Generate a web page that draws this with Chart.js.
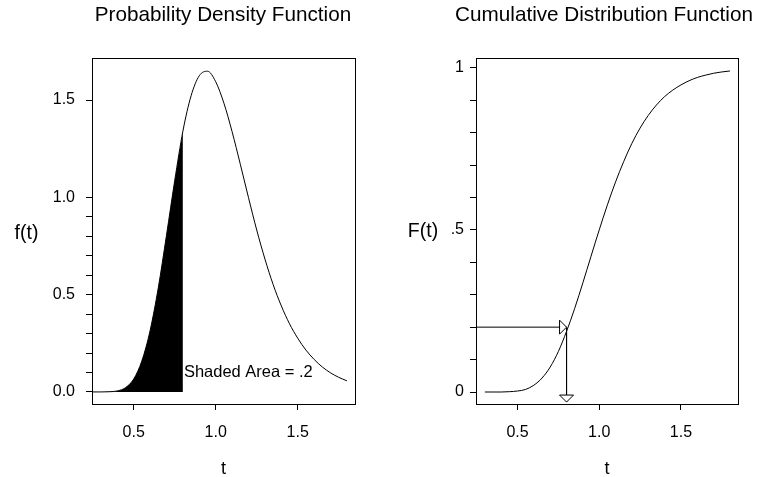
<!DOCTYPE html>
<html><head><meta charset="utf-8">
<script src="https://cdn.jsdelivr.net/npm/chart.js@4.4.1/dist/chart.umd.min.js"></script>
<style>
html,body{margin:0;padding:0;background:#fff;overflow:hidden;}
#wrap{position:relative;width:757px;height:477px;background:#fff;}
canvas{position:absolute;top:0;}
#c1{left:0;} #c2{left:379px;}
</style></head><body>
<div id="wrap"><canvas id="c1" width="378" height="477"></canvas><canvas id="c2" width="378" height="477"></canvas></div>
<script>
// ---- data ----
const tValues   = [0.25,0.30,0.35,0.40,0.45,0.50,0.55,0.60,0.65,0.70,0.75,0.80,0.85,0.90,0.95,1.00,1.05,1.10,1.15,1.20,1.25,1.30,1.35,1.40,1.45,1.50,1.55,1.60,1.65,1.70,1.75,1.80];
const pdfValues = [0.000,0.000,0.001,0.005,0.022,0.066,0.160,0.315,0.535,0.805,1.085,1.340,1.522,1.625,1.648,1.594,1.484,1.337,1.170,0.998,0.832,0.683,0.552,0.442,0.350,0.276,0.215,0.167,0.128,0.098,0.075,0.057];
const cdfT      = [0.30,0.35,0.40,0.45,0.50,0.55,0.60,0.65,0.70,0.75,0.80,0.85,0.90,0.95,1.00,1.05,1.10,1.15,1.20,1.25,1.30,1.35,1.40,1.45,1.50,1.55,1.60,1.65,1.70,1.75,1.80];
const cdfValues = [0.000,0.000,0.000,0.001,0.003,0.008,0.021,0.043,0.077,0.125,0.187,0.258,0.337,0.419,0.500,0.577,0.648,0.711,0.767,0.814,0.853,0.885,0.911,0.931,0.947,0.960,0.970,0.977,0.983,0.987,0.990];
const xTicks          = [0.5, 1.0, 1.5];
const xTickLabels     = ['0.5', '1.0', '1.5'];
const pdfYTicks       = [0,0.1,0.2,0.3,0.4,0.5,0.6,0.7,0.8,0.9,1.0,1.5];
const pdfYTickLabels  = ['0.0','','','','','0.5','','','','','1.0','1.5'];
const cdfYTicks       = [0,0.1,0.2,0.3,0.4,0.5,0.6,0.7,0.8,0.9,1.0];
const cdfYTickLabels  = ['0','','','','','.5','','','','','1'];
const shadeEnd   = 0.8;
const shadeLabel = 'Shaded Area = .2';
const shadeLabelY = 0.1;
const arrowT = 0.8;
const arrowF = 0.2;
const xRange = [0.246, 1.849];
const pdfYRange = [-0.062, 1.716];
const cdfYRange = [-0.037, 1.030];
const arrowBottomF = -0.031;

const FONT = '"Liberation Sans", Arial, Helvetica, sans-serif';
Chart.defaults.font.family = FONT;
Chart.defaults.color = '#000';

const toPts = (xs, ys) => xs.map((x, i) => ({x: x, y: ys[i]}));

const decor = {
  id: 'decor',
  afterDatasetsDraw(chart, args, o) {
    const ctx = chart.ctx, a = chart.chartArea;
    const xs = chart.scales.x, ys = chart.scales.y;
    ctx.save();
    // frame
    ctx.strokeStyle = '#000'; ctx.lineWidth = 1;
    ctx.strokeRect(Math.round(a.left) + 0.5, Math.round(a.top) + 0.5,
                   Math.round(a.right) - Math.round(a.left), Math.round(a.bottom) - Math.round(a.top));
    // title
    ctx.fillStyle = '#000';
    ctx.textAlign = 'center'; ctx.textBaseline = 'middle';
    ctx.font = '20.7px ' + FONT;
    ctx.fillText(o.title, o.titleX, 15);
    // y label (horizontal)
    ctx.font = '19.5px ' + FONT;
    ctx.fillText(o.ylabel, o.ylabelX, o.ylabelY);
    if (o.shade) {
      ctx.font = '16.5px ' + FONT;
      ctx.textAlign = 'left';
      ctx.fillText(shadeLabel, xs.getPixelForValue(shadeEnd) + 1, ys.getPixelForValue(shadeLabelY));
    }
    if (o.arrows) {
      const px = xs.getPixelForValue(arrowT), py = ys.getPixelForValue(arrowF);
      const by = ys.getPixelForValue(arrowBottomF);
      ctx.fillStyle = '#fff'; ctx.strokeStyle = '#000'; ctx.lineWidth = 1;
      ctx.beginPath();
      ctx.moveTo(px, py); ctx.lineTo(px - 7, py - 7); ctx.lineTo(px - 7, py + 7); ctx.closePath();
      ctx.fill(); ctx.stroke();
      ctx.beginPath();
      ctx.moveTo(px, by); ctx.lineTo(px - 7, by - 7); ctx.lineTo(px + 7, by - 7); ctx.closePath();
      ctx.fill(); ctx.stroke();
    }
    ctx.restore();
  }
};

function makeScales(yTicks, yLabels, yRange, yWidth, yPad) {
  return {
    x: {
      type: 'linear', position: 'bottom', min: xRange[0], max: xRange[1],
      afterBuildTicks: s => { s.ticks = xTicks.map(v => ({value: v})); },
      afterFit: s => { s.height = 73; },
      ticks: { autoSkip: false, maxRotation: 0, padding: 13, font: {size: 16}, color: '#000',
               callback: (v, i) => xTickLabels[i] },
      grid: { drawOnChartArea: false, drawTicks: true, tickLength: 6, color: '#000', lineWidth: 1 },
      border: { display: false },
      title: { display: true, text: 't', font: {size: 18}, color: '#000', padding: {top: 0, bottom: -3} }
    },
    y: {
      type: 'linear', position: 'left', min: yRange[0], max: yRange[1],
      afterBuildTicks: s => { s.ticks = yTicks.map(v => ({value: v})); },
      afterFit: s => { s.width = yWidth; },
      ticks: { autoSkip: false, padding: yPad, font: {size: 16}, color: '#000',
               callback: (v, i) => yLabels[i] },
      grid: { drawOnChartArea: false, drawTicks: true, tickLength: 6, color: '#000', lineWidth: 1 },
      border: { display: false }
    }
  };
}

const common = { responsive: false, animation: false, devicePixelRatio: 1 };

new Chart(document.getElementById('c1'), {
  type: 'line',
  data: {
    datasets: [
      { data: toPts(tValues, pdfValues), borderColor: '#000', borderWidth: 1, pointRadius: 0,
        cubicInterpolationMode: 'monotone', fill: false, order: 1 },
      { data: toPts(tValues.filter(t => t <= shadeEnd + 1e-9), pdfValues.filter((v, i) => tValues[i] <= shadeEnd + 1e-9)),
        borderWidth: 0, borderColor: 'rgba(0,0,0,0)', backgroundColor: '#000', pointRadius: 0,
        cubicInterpolationMode: 'monotone', fill: 'origin', order: 2 }
    ]
  },
  options: Object.assign({}, common, {
    layout: { padding: { left: 0, right: 23, top: 58, bottom: 0 } },
    scales: makeScales(pdfYTicks, pdfYTickLabels, pdfYRange, 92, 11),
    plugins: { legend: {display: false}, tooltip: {enabled: false},
      decor: { title: 'Probability Density Function', titleX: 223, ylabel: 'f(t)', ylabelX: 26.5, ylabelY: 234, shade: true } }
  }),
  plugins: [decor]
});

new Chart(document.getElementById('c2'), {
  type: 'line',
  data: {
    datasets: [
      { data: toPts(cdfT, cdfValues), borderColor: '#000', borderWidth: 1, pointRadius: 0,
        cubicInterpolationMode: 'monotone', fill: false },
      { data: [{x: xRange[0], y: arrowF}, {x: arrowT, y: arrowF}, {x: arrowT, y: arrowBottomF}],
        borderColor: '#000', borderWidth: 1, pointRadius: 0, tension: 0, fill: false }
    ]
  },
  options: Object.assign({}, common, {
    layout: { padding: { left: 0, right: 19, top: 58, bottom: 0 } },
    scales: makeScales(cdfYTicks, cdfYTickLabels, cdfYRange, 97, 6),
    plugins: { legend: {display: false}, tooltip: {enabled: false},
      decor: { title: 'Cumulative Distribution Function', titleX: 225, ylabel: 'F(t)', ylabelX: 44, ylabelY: 232, arrows: true } }
  }),
  plugins: [decor]
});
</script>
</body></html>
